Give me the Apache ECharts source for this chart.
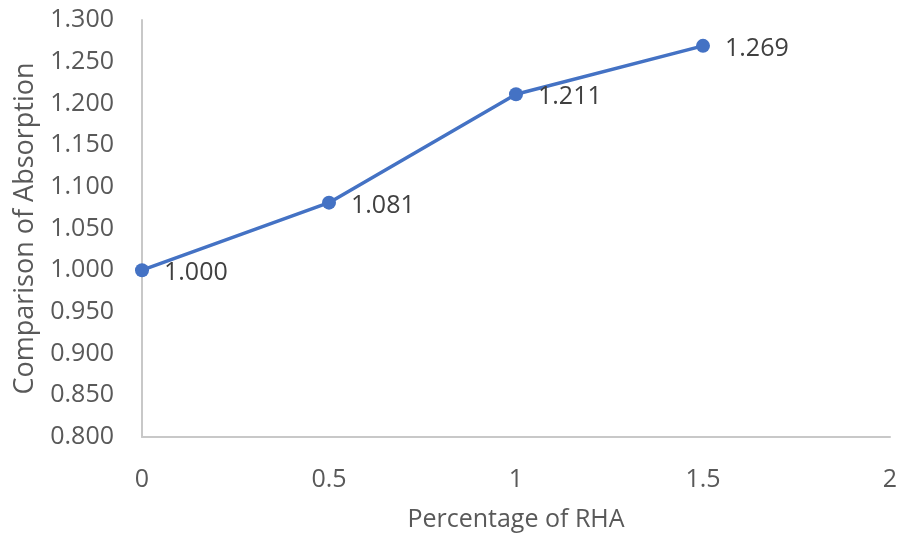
<!DOCTYPE html>
<html><head><meta charset="utf-8">
<script src="https://cdn.jsdelivr.net/npm/echarts@6/dist/echarts.min.js"></script>
<style>html,body{margin:0;padding:0;background:#fff}#c{width:900px;height:536px}</style>
</head><body><div id="c"></div>
<script>
const rhaPercent = [0, 0.5, 1, 1.5];
const absorption = [1.000, 1.081, 1.211, 1.269];
const xTicks = [0, 0.5, 1, 1.5, 2];
const yRange = [0.8, 1.3];

const chart = echarts.init(document.getElementById('c'));
const font = 'Open Sans';
chart.setOption({
  animation: false,
  grid: {left: 142, right: 10, top: 20, bottom: 99, outerBoundsMode: 'none', containLabel: false},
  xAxis: {
    type: 'value', min: xTicks[0], max: xTicks[xTicks.length-1], interval: 0.5,
    name: 'Percentage of RHA', nameLocation: 'middle', nameGap: 70,
    nameTextStyle: {fontFamily: font, fontSize: 25, color: '#595959'},
    axisLine: {show: true, lineStyle: {color: '#c8c8c8', width: 2}},
    axisTick: {show: false}, splitLine: {show: false},
    axisLabel: {fontFamily: font, fontSize: 25, color: '#595959', margin: 30}
  },
  yAxis: {
    type: 'value', min: yRange[0], max: yRange[1], interval: 0.05,
    name: 'Comparison of Absorption', nameLocation: 'middle', nameGap: 103,
    nameTextStyle: {fontFamily: font, fontSize: 27, color: '#595959'},
    axisLine: {show: true, lineStyle: {color: '#c8c8c8', width: 2}},
    axisTick: {show: false}, splitLine: {show: false},
    axisLabel: {fontFamily: font, fontSize: 25, color: '#595959', margin: 28,
      formatter: v => v.toFixed(3)}
  },
  series: [{
    type: 'line',
    data: rhaPercent.map((x, i) => [x, absorption[i]]),
    lineStyle: {color: '#4472C4', width: 3.5},
    itemStyle: {color: '#4472C4'},
    symbol: 'circle', symbolSize: 14,
    label: {show: true, position: 'right', distance: 15, offset: [0, 3],
      fontFamily: font, fontSize: 25, color: '#404040',
      formatter: p => p.value[1].toFixed(3)}
  }]
});
</script></body></html>
